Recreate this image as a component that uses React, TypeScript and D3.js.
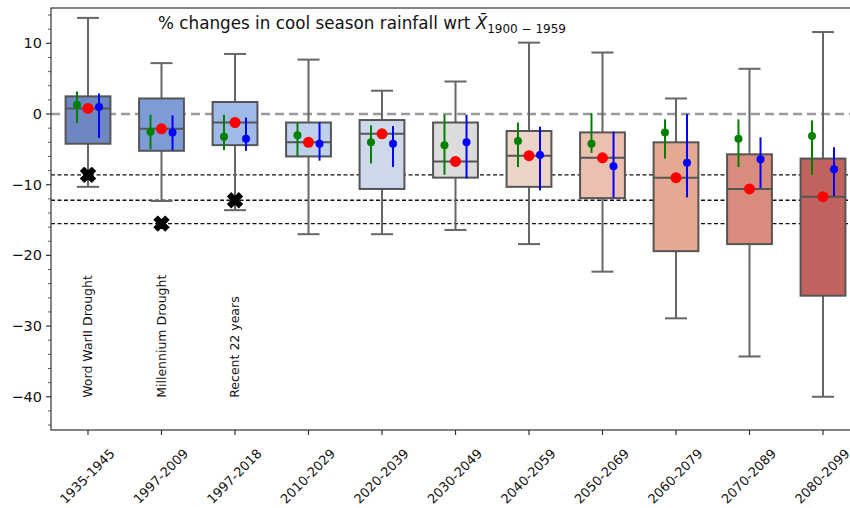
import React from 'react';
import * as d3 from 'd3';

const categories = ['1935-1945','1997-2009','1997-2018','2010-2029','2020-2039','2030-2049','2040-2059','2050-2069','2060-2079','2070-2089','2080-2099'];
const whiskerHigh = [13.6, 7.2, 8.5, 7.7, 3.3, 4.6, 10.1, 8.7, 2.2, 6.4, 11.6];
const q3 = [2.5, 2.2, 1.7, -1.2, -0.85, -1.2, -2.4, -2.6, -4.0, -5.7, -6.3];
const median = [0.8, -2.1, -1.2, -4.0, -2.8, -6.7, -5.9, -6.2, -9.0, -10.6, -11.7];
const q1 = [-4.2, -5.2, -4.4, -6.0, -10.6, -9.0, -10.3, -11.9, -19.4, -18.4, -25.7];
const whiskerLow = [-10.3, -12.3, -13.6, -17.0, -17.0, -16.4, -18.4, -22.3, -28.9, -34.3, -40.0];
const meanVals = [0.8, -2.1, -1.2, -4.0, -2.8, -6.7, -5.9, -6.2, -9.0, -10.6, -11.7];

const greenMid = [1.3, -2.5, -3.2, -3.0, -4.0, -4.4, -3.8, -4.2, -2.6, -3.5, -3.1];
const greenLo = [-1.3, -5.0, -5.1, -6.0, -7.0, -8.6, -7.5, -5.5, -6.3, -7.5, -8.6];
const greenHi = [3.2, -0.1, -0.1, -1.2, -1.6, -0.1, -1.2, 0.1, -0.75, -0.75, -0.9];

const blueMid = [1.0, -2.6, -3.5, -4.2, -4.2, -4.0, -5.8, -7.4, -6.9, -6.4, -7.8];
const blueLo = [-3.4, -5.1, -5.2, -6.6, -7.5, -9.1, -10.8, -11.8, -11.8, -10.5, -11.6];
const blueHi = [2.9, -0.2, -0.5, -1.2, -1.7, -0.1, -1.8, -2.5, 0.0, -3.3, -4.7];

const observed = [-8.6, -15.5, -12.2];
const eventLabels = ['Word WarII Drought', 'Millennium Drought', 'Recent 22 years'];

const fills = ['#6f87c1', '#7d9bd7', '#a0bae8', '#bed0ec', '#cdd9eb', '#dcdcdc', '#ecd4c8', '#ecc0b0', '#e5a893', '#d98c7e', '#c0625e'];

const yTicks = [10, 0, -10, -20, -30, -40];

export default function App() {
  const W = 850, H = 508;
  const left = 51, top = 8, bottom = 430;
  const x = d3.scaleLinear().domain([0.5, 11.5]).range([51.25, 859.75]);
  const y = d3.scaleLinear().domain([-44.7, 15]).range([bottom, top]);
  const right = x(11.5);
  const boxHalf = 0.305;
  const capHalf = 0.15;
  const off = 0.15;
  const minor = d3.range(-44, 15, 2).filter(v => v % 10 !== 0);
  const font = 'DejaVu Sans, sans-serif';
  const xMarker = d3.symbol().type(d3.symbolCross).size(140)() as string;

  return (
    <svg width={W} height={H} style={{ position: 'absolute', left: 0, top: 0, background: '#fff' }} fontFamily={font}>
      <rect x={0} y={0} width={W} height={H} fill="#fff" />
      {/* reference lines */}
      <line x1={left} x2={right} y1={y(0)} y2={y(0)} stroke="#999" strokeWidth={2.5} strokeDasharray="9,5" />
      {observed.map((v, i) => (
        <line key={'o' + i} x1={left} x2={right} y1={y(v)} y2={y(v)} stroke="#111" strokeWidth={1.3} strokeDasharray="4,2.5" />
      ))}
      {/* boxes */}
      {categories.map((c, i) => {
        const cx = x(i + 1);
        const bw = x(1 + boxHalf) - x(1);
        const cw = x(1 + capHalf) - x(1);
        return (
          <g key={c}>
            <line x1={cx} x2={cx} y1={y(whiskerHigh[i])} y2={y(q3[i])} stroke="#666" strokeWidth={2} />
            <line x1={cx} x2={cx} y1={y(q1[i])} y2={y(whiskerLow[i])} stroke="#666" strokeWidth={2} />
            <line x1={cx - cw} x2={cx + cw} y1={y(whiskerHigh[i])} y2={y(whiskerHigh[i])} stroke="#666" strokeWidth={2} />
            <line x1={cx - cw} x2={cx + cw} y1={y(whiskerLow[i])} y2={y(whiskerLow[i])} stroke="#666" strokeWidth={2} />
            <rect x={cx - bw} y={y(q3[i])} width={2 * bw} height={y(q1[i]) - y(q3[i])} fill={fills[i]} stroke="#555" strokeWidth={2} />
            <line x1={cx - bw} x2={cx + bw} y1={y(median[i])} y2={y(median[i])} stroke="#555" strokeWidth={2} />
          </g>
        );
      })}
      {/* observed markers (filled X) */}
      {observed.map((v, i) => (
        <path key={'od' + i} d={xMarker} transform={`translate(${x(i + 1)},${y(v)}) rotate(45)`} fill="#000" stroke="#000" strokeWidth={1} />
      ))}
      {/* ensemble markers */}
      {categories.map((c, i) => (
        <g key={'m' + c}>
          <line x1={x(i + 1 - off)} x2={x(i + 1 - off)} y1={y(greenLo[i])} y2={y(greenHi[i])} stroke="green" strokeWidth={2} />
          <circle cx={x(i + 1 - off)} cy={y(greenMid[i])} r={4} fill="green" />
          <line x1={x(i + 1 + off)} x2={x(i + 1 + off)} y1={y(blueLo[i])} y2={y(blueHi[i])} stroke="blue" strokeWidth={2} />
          <circle cx={x(i + 1 + off)} cy={y(blueMid[i])} r={4} fill="blue" />
          <circle cx={x(i + 1)} cy={y(meanVals[i])} r={5.5} fill="red" />
        </g>
      ))}
      {/* event labels */}
      {eventLabels.map((t, i) => (
        <text key={t} transform={`translate(${x(i + 1) + 4},${y(-40) + 1}) rotate(-90)`} fontSize={12.5} fill="#111">{t}</text>
      ))}
      {/* frame */}
      <rect x={left} y={top} width={right - left} height={bottom - top} fill="none" stroke="#333" strokeWidth={1.2} />
      {/* y axis */}
      {yTicks.map(v => (
        <g key={'yt' + v}>
          <line x1={left - 5} x2={left} y1={y(v)} y2={y(v)} stroke="#333" strokeWidth={1.2} />
          <text x={left - 9} y={y(v) + 5} textAnchor="end" fontSize={14.5} fill="#111">{v < 0 ? '\u2212' + Math.abs(v) : String(v)}</text>
        </g>
      ))}
      {minor.map(v => (
        <line key={'mn' + v} x1={left - 3} x2={left} y1={y(v)} y2={y(v)} stroke="#333" strokeWidth={0.8} />
      ))}
      {/* x axis */}
      {categories.map((c, i) => (
        <g key={'xt' + c}>
          <line x1={x(i + 1)} x2={x(i + 1)} y1={bottom} y2={bottom + 5} stroke="#333" strokeWidth={1.2} />
          <text transform={`translate(${x(i + 1)},${bottom + 47}) rotate(-45)`} textAnchor="middle" dominantBaseline="middle" fontSize={13} fill="#111">{c}</text>
        </g>
      ))}
      {/* title */}
      <text x={158} y={29} fontSize={16.8} fill="#111">
        % changes in cool season rainfall wrt <tspan fontStyle="italic">X̄</tspan><tspan fontSize={12} dy={4}>1900 − 1959</tspan>
      </text>
    </svg>
  );
}
